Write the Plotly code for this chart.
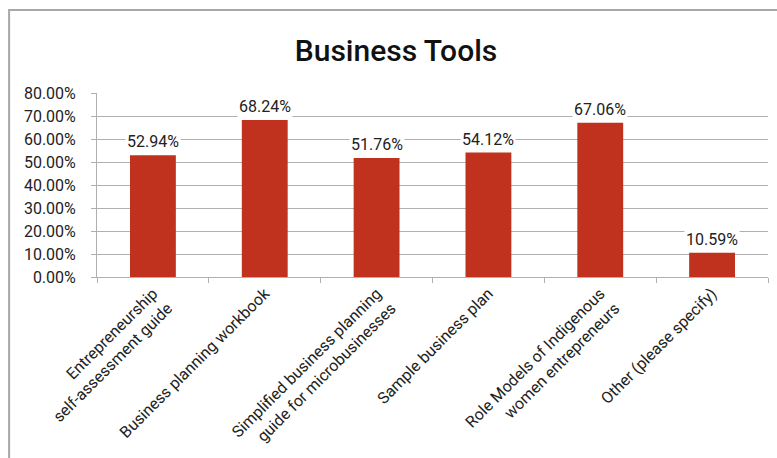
import plotly.graph_objects as go

categories = [
    "Entrepreneurship<br>self-assessment guide",
    "Business planning workbook",
    "Simplified business planning<br>guide for microbusinesses",
    "Sample business plan",
    "Role Models of Indigenous<br>women entrepreneurs",
    "Other (please specify)",
]
shares = [0.5294, 0.6824, 0.5176, 0.5412, 0.6706, 0.1059]
y_ticks = [0.0, 0.1, 0.2, 0.3, 0.4, 0.5, 0.6, 0.7, 0.8]

BAR = "#c0311e"
FONT = "Roboto, Arial, sans-serif"
TEXT = "#222222"
GRID = "#b0b0b0"

fig = go.Figure(
    go.Bar(
        x=categories,
        y=shares,
        marker=dict(color=BAR, line=dict(width=0)),
        hoverinfo="skip",
    )
)

# value labels sit above each bar on a white box that breaks the gridline
for cat, val in zip(categories, shares):
    fig.add_annotation(
        x=cat, y=val, text=f"{val * 100:.2f}%",
        showarrow=False, yanchor="bottom", yshift=2,
        bgcolor="white", borderpad=1,
        font=dict(family=FONT, size=16, color=TEXT),
    )

# outer chart frame
fig.add_shape(
    type="rect", xref="paper", yref="paper",
    x0=-0.131, x1=1.05, y0=-1.2, y1=1.451,
    line=dict(color="#a8a8a8", width=2), fillcolor="rgba(0,0,0,0)",
    layer="below",
)

fig.update_layout(
    width=777, height=458,
    margin=dict(l=97, r=9, t=93, b=181, autoexpand=False),
    paper_bgcolor="white", plot_bgcolor="white",
    bargap=0.59,
    showlegend=False,
    title=dict(
        text="Business Tools",
        x=396 / 777, xanchor="center", xref="container",
        y=1 - 50 / 458, yanchor="middle", yref="container",
        font=dict(family=FONT, size=30, color="#111111", weight=500),
    ),
    font=dict(family=FONT, size=16, color=TEXT),
)

fig.update_xaxes(
    type="category",
    automargin=False,
    tickangle=-45,
    ticks="outside", ticklen=5, tickcolor=GRID, tickwidth=1,
    tickson="boundaries",
    showline=True, linecolor=GRID, linewidth=1,
    showgrid=False,
    tickfont=dict(family=FONT, size=16, color=TEXT),
)
fig.update_yaxes(
    range=[0, 0.8],
    automargin=False,
    tickvals=y_ticks,
    tickformat=".2%",
    ticks="outside", ticklen=5, tickcolor=GRID, tickwidth=1,
    ticklabelstandoff=12,
    showline=True, linecolor=GRID, linewidth=1,
    showgrid=True, gridcolor=GRID, gridwidth=1,
    zeroline=False,
    tickfont=dict(family=FONT, size=16, color=TEXT),
)

fig.write_html("out.html")
